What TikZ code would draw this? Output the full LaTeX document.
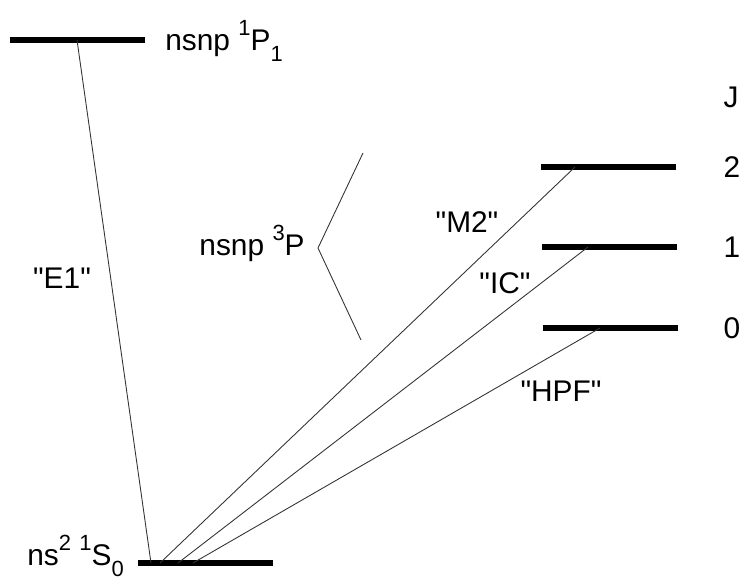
\documentclass[tikz,border=0pt]{standalone}
\usepackage{fontspec}
\setmainfont{Liberation Sans}
\newcommand{\up}[1]{\raisebox{0.5em}{\fontsize{12.5}{13}\selectfont #1}}
\newcommand{\dn}[1]{\raisebox{-0.4em}{\fontsize{12.5}{13}\selectfont #1}}
\newcommand{\qt}[1]{\textquotedbl#1\textquotedbl}
\tikzset{
  level/.style={line width=3.1pt},
  trans/.style={line width=0.5pt, black!80},
  lbl/.style={inner sep=0pt, font=\fontsize{17}{20}\selectfont}
}
\begin{document}
\begin{tikzpicture}[x=0.02cm, y=-0.02cm]
  \useasboundingbox (0,0) rectangle (741,582);
  % levels
  \coordinate (p1l) at (10,40);   \coordinate (p1r) at (145,40);
  \coordinate (s0l) at (138,563); \coordinate (s0r) at (273,563);
  \coordinate (j2l) at (541,167); \coordinate (j2r) at (676,167);
  \coordinate (j1l) at (542,247); \coordinate (j1r) at (677,247);
  \coordinate (j0l) at (543,328); \coordinate (j0r) at (678,328);
  \draw[level] (p1l) -- (p1r);
  \draw[level] (s0l) -- (s0r);
  \draw[level] (j2l) -- (j2r);
  \draw[level] (j1l) -- (j1r);
  \draw[level] (j0l) -- (j0r);

  % transition ends
  \coordinate (e1top) at (77,40);   \coordinate (e1bot) at (151,563);
  \coordinate (m2top) at (575,167); \coordinate (m2bot) at (160,563);
  \coordinate (ictop) at (588,247); \coordinate (icbot) at (178,563);
  \coordinate (hftop) at (600,328); \coordinate (hfbot) at (193,563);
  \draw[trans] (e1top) -- (e1bot);
  \draw[trans] (m2bot) -- (m2top);
  \draw[trans] (icbot) -- (ictop);
  \draw[trans] (hfbot) -- (hftop);

  % 3P bracket
  \coordinate (bt) at (363,153);
  \coordinate (bv) at (318,248);
  \coordinate (bb) at (361,340);
  \draw[trans] (bt) -- (bv) -- (bb);

  % labels
  \node[lbl, anchor=base west] (p1) at (165,50) {nsnp \up{1}P\dn{1}};
  \node[lbl, anchor=base west] (s0) at (27,565) {ns\up{2} \up{1}S\dn{0}};
  \node[lbl, anchor=base east] (p3) at (305,255) {nsnp \up{3}P};
  \node[lbl] (jj) at (731,97) {J};
  \node[lbl] (n2) at (732,167) {2};
  \node[lbl] (n1) at (732,247) {1};
  \node[lbl] (n0) at (732,328) {0};
  \node[lbl] (le1) at (62,278) {\qt{E1}};
  \node[lbl] (lm2) at (467,222) {\qt{M2}};
  \node[lbl] (lic) at (505,283) {\qt{IC}};
  \node[lbl] (lhf) at (561,391) {\qt{HPF}};
\end{tikzpicture}
\end{document}
